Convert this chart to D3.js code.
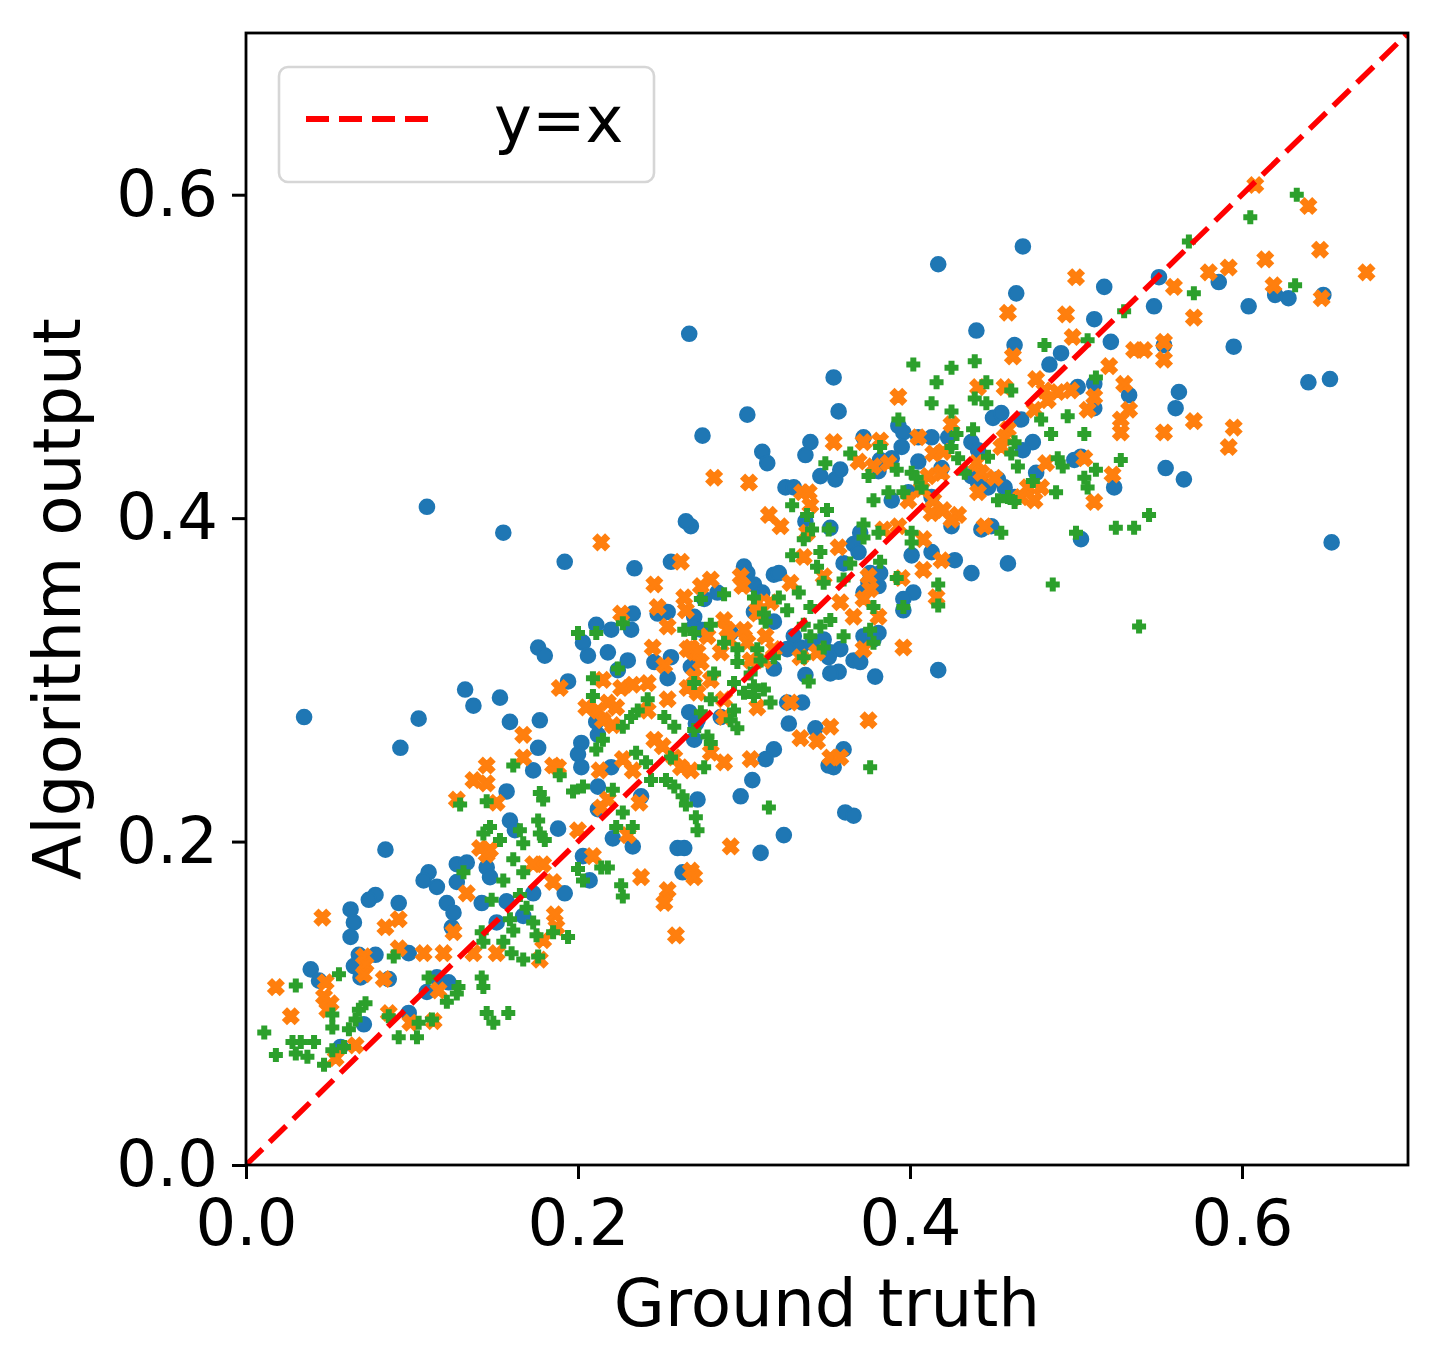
<!DOCTYPE html>
<html><head><meta charset="utf-8">
<script src="https://cdn.jsdelivr.net/npm/d3@7"></script>
<style>html,body{margin:0;padding:0;background:#fff;}svg{display:block;}</style>
</head><body>
<script>
// ---- data ----
const xTicks = [0.0, 0.2, 0.4, 0.6];
const yTicks = [0.0, 0.2, 0.4, 0.6];
const xLabel = "Ground truth";
const yLabel = "Algorithm output";
const legendLabel = "y=x";
const identityLine = [[0, 0], [0.7, 0.7]];

const seriesBlue = [
[0.084,0.195],[0.110,0.181],[0.107,0.176],[0.115,0.172],[0.127,0.186],[0.133,0.187],[0.145,0.184],[0.147,0.178],[0.127,0.175],[0.078,0.167],[0.074,0.164],[0.063,0.158],[0.065,0.150],[0.063,0.141],[0.092,0.162],[0.121,0.162],[0.125,0.156],[0.124,0.147],[0.142,0.162],[0.157,0.163],[0.173,0.168],[0.192,0.168],[0.203,0.191],[0.207,0.176],[0.039,0.121],[0.044,0.114],[0.068,0.130],[0.078,0.130],[0.065,0.123],[0.069,0.116],[0.086,0.115],[0.098,0.131],[0.115,0.116],[0.109,0.107],[0.122,0.113],[0.098,0.094],[0.071,0.087],[0.057,0.073],[0.151,0.150],[0.167,0.154],
[0.093,0.258],[0.104,0.276],[0.132,0.294],[0.137,0.284],[0.153,0.289],[0.159,0.274],[0.177,0.275],[0.176,0.258],[0.173,0.244],[0.157,0.231],[0.159,0.213],[0.162,0.207],[0.188,0.208],[0.176,0.320],[0.180,0.315],[0.194,0.299],[0.203,0.323],[0.206,0.315],[0.211,0.334],[0.220,0.331],[0.232,0.331],[0.233,0.341],[0.218,0.317],[0.230,0.312],[0.224,0.306],[0.211,0.274],[0.212,0.266],[0.202,0.261],[0.200,0.254],[0.202,0.246],[0.212,0.234],[0.220,0.246],[0.212,0.220],[0.221,0.202],[0.233,0.197],[0.238,0.228],[0.246,0.311],[0.254,0.301],[0.256,0.314],[0.248,0.341],[0.254,0.342],[0.270,0.339],[0.268,0.308],[0.267,0.280],[0.272,0.275],[0.270,0.263],[0.260,0.196],[0.264,0.196],[0.263,0.181],[0.272,0.226],
[0.354,0.246],[0.305,0.238],[0.298,0.228],[0.361,0.218],[0.366,0.216],[0.324,0.204],[0.310,0.193],
[0.268,0.395],[0.337,0.398],[0.352,0.394],[0.370,0.391],[0.366,0.384],[0.401,0.377],[0.413,0.379],[0.300,0.370],[0.302,0.366],[0.318,0.365],[0.321,0.366],[0.306,0.359],[0.311,0.354],[0.284,0.354],[0.276,0.350],[0.270,0.333],[0.274,0.331],[0.292,0.329],[0.306,0.342],[0.318,0.336],[0.330,0.327],[0.334,0.320],[0.341,0.323],[0.348,0.325],[0.352,0.317],[0.358,0.319],[0.351,0.314],[0.357,0.305],[0.352,0.304],[0.366,0.312],[0.370,0.311],[0.379,0.302],[0.337,0.303],[0.318,0.307],[0.326,0.319],[0.372,0.327],[0.381,0.329],[0.378,0.325],[0.376,0.366],[0.382,0.366],[0.375,0.360],[0.381,0.358],[0.372,0.354],[0.402,0.354],[0.396,0.350],[0.396,0.343],[0.417,0.306],[0.360,0.372],[0.369,0.379],[0.335,0.286],[0.326,0.286],[0.327,0.273],[0.343,0.270],[0.318,0.257],[0.313,0.251],[0.360,0.257],[0.351,0.247],[0.286,0.277],[0.271,0.273],
[0.267,0.514],[0.109,0.407],[0.155,0.391],[0.192,0.373],[0.234,0.369],[0.256,0.373],[0.265,0.398],[0.275,0.451],[0.302,0.464],[0.311,0.441],[0.314,0.434],[0.354,0.487],[0.357,0.466],[0.340,0.447],[0.337,0.439],[0.346,0.426],[0.355,0.424],[0.325,0.419],[0.330,0.419],
[0.035,0.277],
[0.468,0.568],[0.417,0.557],[0.464,0.539],[0.440,0.516],
[0.463,0.507],[0.491,0.502],[0.484,0.495],[0.501,0.481],[0.511,0.483],[0.511,0.468],[0.450,0.462],[0.455,0.465],[0.467,0.461],[0.393,0.457],[0.396,0.453],[0.372,0.450],[0.395,0.444],[0.405,0.450],[0.413,0.450],[0.423,0.450],[0.437,0.447],[0.441,0.442],[0.474,0.447],[0.468,0.442],[0.499,0.436],[0.503,0.438],[0.358,0.430],[0.382,0.436],[0.389,0.437],[0.405,0.435],[0.419,0.431],[0.437,0.426],[0.441,0.422],[0.447,0.419],[0.453,0.424],[0.457,0.419],[0.476,0.428],[0.381,0.429],[0.399,0.416],[0.389,0.411],[0.413,0.413],[0.463,0.413],[0.425,0.395],[0.443,0.393],[0.449,0.395],[0.503,0.387],[0.427,0.374],[0.437,0.366],[0.459,0.372],
[0.517,0.543],[0.550,0.549],[0.586,0.546],[0.547,0.531],[0.604,0.531],[0.620,0.538],[0.628,0.536],[0.649,0.538],[0.511,0.523],[0.521,0.509],[0.553,0.507],[0.595,0.506],[0.532,0.476],[0.562,0.478],[0.560,0.468],[0.640,0.484],[0.653,0.486],[0.554,0.431],
[0.565,0.424],[0.523,0.419],[0.654,0.385]
];

const seriesOrange = [
[0.018,0.110],[0.046,0.153],[0.027,0.092],[0.048,0.113],[0.047,0.104],[0.051,0.100],[0.049,0.096],[0.054,0.066],[0.066,0.074],[0.071,0.129],[0.072,0.124],[0.071,0.118],[0.084,0.147],[0.092,0.152],[0.083,0.115],[0.092,0.134],[0.107,0.131],[0.119,0.131],[0.125,0.144],[0.133,0.168],[0.116,0.108],[0.086,0.094],[0.099,0.088],[0.113,0.089],[0.145,0.192],[0.179,0.186],[0.185,0.175],[0.186,0.155],[0.187,0.147],[0.137,0.131],[0.151,0.131],[0.177,0.127],[0.179,0.139],[0.173,0.186],
[0.189,0.295],[0.167,0.266],[0.167,0.252],[0.145,0.247],[0.137,0.238],[0.145,0.236],[0.127,0.226],[0.151,0.224],[0.141,0.196],[0.147,0.195],[0.185,0.247],[0.188,0.246],[0.213,0.244],[0.214,0.221],[0.218,0.226],[0.227,0.251],[0.233,0.244],[0.237,0.224],[0.200,0.207],[0.230,0.204],[0.209,0.191],[0.238,0.178],[0.254,0.170],[0.268,0.182],[0.270,0.178],[0.205,0.283],[0.212,0.281],[0.218,0.286],[0.223,0.283],[0.215,0.275],[0.221,0.272],[0.215,0.300],[0.226,0.295],[0.233,0.297],[0.242,0.298],[0.245,0.320],[0.252,0.309],[0.248,0.345],[0.254,0.333],[0.265,0.343],[0.266,0.319],[0.270,0.317],[0.254,0.288],[0.266,0.295],[0.242,0.281],[0.246,0.263],[0.251,0.259],[0.258,0.252],[0.262,0.246],[0.268,0.244],[0.226,0.341],
[0.292,0.197],[0.252,0.162],[0.259,0.142],
[0.322,0.395],[0.280,0.362],[0.274,0.358],[0.298,0.364],[0.299,0.358],[0.288,0.337],[0.290,0.331],[0.291,0.325],[0.278,0.327],[0.268,0.320],[0.272,0.317],[0.286,0.317],[0.300,0.331],[0.302,0.323],[0.313,0.327],[0.316,0.348],[0.308,0.341],[0.328,0.360],[0.336,0.376],[0.338,0.391],[0.357,0.382],[0.348,0.364],[0.375,0.364],[0.376,0.356],[0.372,0.350],[0.366,0.339],[0.358,0.348],[0.381,0.339],[0.408,0.368],[0.408,0.387],[0.416,0.351],[0.393,0.395],[0.396,0.320],[0.372,0.319],[0.344,0.317],[0.334,0.314],[0.318,0.319],[0.312,0.312],[0.304,0.312],[0.274,0.311],[0.270,0.302],[0.280,0.300],[0.272,0.292],[0.288,0.288],[0.308,0.283],[0.328,0.286],[0.288,0.277],[0.375,0.275],[0.352,0.271],[0.334,0.264],[0.344,0.262],[0.304,0.251],[0.288,0.249],[0.352,0.252],[0.358,0.252],[0.280,0.255],[0.308,0.348],
[0.282,0.425],[0.303,0.422],[0.354,0.447],[0.335,0.416],[0.339,0.416],[0.340,0.408],[0.315,0.402],[0.214,0.385],[0.262,0.373],[0.246,0.359],[0.264,0.351],
[0.500,0.549],[0.459,0.527],[0.494,0.526],[0.498,0.512],
[0.462,0.500],[0.393,0.475],[0.476,0.486],[0.481,0.479],[0.441,0.481],[0.457,0.481],[0.511,0.475],[0.507,0.467],[0.489,0.478],[0.497,0.479],[0.475,0.467],[0.483,0.473],[0.425,0.458],[0.405,0.450],[0.372,0.447],[0.382,0.448],[0.369,0.435],[0.378,0.432],[0.387,0.434],[0.414,0.440],[0.420,0.441],[0.411,0.426],[0.419,0.428],[0.440,0.434],[0.443,0.428],[0.451,0.425],[0.457,0.450],[0.459,0.455],[0.455,0.444],[0.482,0.434],[0.505,0.437],[0.471,0.419],[0.467,0.413],[0.479,0.419],[0.475,0.411],[0.441,0.416],[0.511,0.410],[0.407,0.418],[0.399,0.411],[0.414,0.411],[0.413,0.403],[0.420,0.405],[0.429,0.402],[0.425,0.399],[0.445,0.395],[0.384,0.393],[0.419,0.374],[0.395,0.363],
[0.608,0.606],[0.640,0.593],[0.647,0.566],[0.614,0.560],[0.592,0.555],[0.580,0.552],[0.675,0.552],[0.619,0.544],[0.559,0.543],[0.648,0.536],[0.571,0.524],[0.535,0.504],[0.541,0.504],[0.553,0.509],[0.553,0.498],[0.520,0.494],[0.529,0.483],[0.532,0.467],[0.527,0.461],[0.527,0.453],[0.553,0.453],[0.571,0.460],[0.595,0.456],[0.592,0.444],
[0.522,0.427]
];

const seriesGreen = [
[0.011,0.082],[0.018,0.068],[0.030,0.111],[0.028,0.076],[0.033,0.076],[0.030,0.069],[0.037,0.067],[0.041,0.076],[0.047,0.062],[0.052,0.071],[0.059,0.073],[0.052,0.093],[0.052,0.085],[0.062,0.084],[0.066,0.090],[0.068,0.096],[0.072,0.100],[0.056,0.118],[0.089,0.129],[0.086,0.092],[0.092,0.079],[0.103,0.079],[0.104,0.088],[0.112,0.090],[0.110,0.116],[0.121,0.101],[0.127,0.106],[0.128,0.110],[0.142,0.116],[0.143,0.110],[0.145,0.094],[0.149,0.088],[0.158,0.094],[0.131,0.181],[0.148,0.164],[0.155,0.176],[0.161,0.189],[0.167,0.181],[0.169,0.159],[0.159,0.152],[0.161,0.145],[0.173,0.150],[0.175,0.142],[0.155,0.138],[0.160,0.131],[0.167,0.127],[0.176,0.129],[0.185,0.144],[0.194,0.141],[0.200,0.183],[0.203,0.176],[0.142,0.144],[0.143,0.138],[0.165,0.167],
[0.200,0.329],[0.211,0.329],[0.227,0.335],[0.224,0.307],[0.209,0.301],[0.209,0.290],[0.242,0.288],[0.236,0.281],[0.232,0.277],[0.227,0.271],[0.252,0.277],[0.258,0.271],[0.270,0.298],[0.270,0.329],[0.264,0.331],[0.215,0.263],[0.211,0.257],[0.235,0.255],[0.241,0.249],[0.244,0.238],[0.253,0.238],[0.256,0.252],[0.258,0.234],[0.263,0.228],[0.265,0.223],[0.271,0.215],[0.272,0.207],[0.221,0.232],[0.227,0.218],[0.223,0.209],[0.233,0.209],[0.161,0.247],[0.189,0.241],[0.177,0.230],[0.179,0.226],[0.197,0.231],[0.203,0.234],[0.145,0.225],[0.129,0.223],[0.176,0.213],[0.177,0.205],[0.147,0.209],[0.143,0.205],[0.153,0.201],[0.165,0.207],[0.167,0.199],[0.180,0.201],[0.214,0.184],[0.218,0.184],[0.226,0.173],[0.227,0.166],
[0.315,0.221],[0.376,0.246],
[0.329,0.377],[0.336,0.387],[0.346,0.379],[0.344,0.370],[0.348,0.360],[0.341,0.393],[0.351,0.393],[0.372,0.396],[0.372,0.388],[0.381,0.391],[0.401,0.391],[0.401,0.385],[0.364,0.372],[0.360,0.362],[0.382,0.373],[0.392,0.363],[0.417,0.359],[0.417,0.346],[0.396,0.345],[0.378,0.345],[0.274,0.350],[0.288,0.353],[0.306,0.351],[0.321,0.351],[0.333,0.354],[0.326,0.343],[0.340,0.345],[0.312,0.341],[0.313,0.336],[0.280,0.334],[0.336,0.334],[0.346,0.333],[0.340,0.327],[0.352,0.337],[0.360,0.327],[0.376,0.331],[0.378,0.323],[0.348,0.320],[0.336,0.314],[0.288,0.323],[0.296,0.319],[0.308,0.319],[0.318,0.314],[0.310,0.312],[0.296,0.311],[0.304,0.304],[0.282,0.304],[0.294,0.298],[0.306,0.296],[0.312,0.294],[0.300,0.292],[0.280,0.288],[0.294,0.281],[0.306,0.290],[0.316,0.286],[0.274,0.280],[0.292,0.275],[0.296,0.270],[0.270,0.269],[0.278,0.265],[0.280,0.261],[0.339,0.299],[0.276,0.246],
[0.349,0.434],[0.329,0.408],[0.350,0.405],[0.338,0.402],
[0.402,0.495],[0.425,0.493],[0.439,0.497],[0.481,0.507],[0.507,0.510],[0.416,0.484],[0.446,0.484],[0.461,0.479],[0.439,0.474],[0.446,0.471],[0.413,0.471],[0.425,0.466],[0.393,0.461],[0.479,0.461],[0.495,0.463],[0.512,0.487],[0.485,0.452],[0.505,0.452],[0.438,0.455],[0.428,0.452],[0.364,0.440],[0.382,0.444],[0.425,0.444],[0.463,0.447],[0.461,0.440],[0.447,0.438],[0.375,0.426],[0.392,0.430],[0.401,0.428],[0.404,0.425],[0.429,0.437],[0.433,0.428],[0.465,0.432],[0.489,0.437],[0.492,0.432],[0.474,0.423],[0.505,0.425],[0.507,0.419],[0.512,0.430],[0.488,0.416],[0.453,0.411],[0.459,0.413],[0.463,0.410],[0.378,0.411],[0.387,0.416],[0.396,0.416],[0.407,0.419],
[0.633,0.600],[0.605,0.586],[0.568,0.571],[0.571,0.539],[0.632,0.544],[0.529,0.528],[0.527,0.436],
[0.544,0.402],[0.524,0.394],[0.535,0.394],[0.500,0.391],[0.486,0.359],[0.538,0.333],[0.455,0.391]
];

// ---- layout ----
const W = 1441, H = 1369;
const plotLeft = 246, plotRight = 1408, plotTop = 33, plotBottom = 1165;
const FONT = "'DejaVu Sans', sans-serif";

const svg = d3.select("body").append("svg").attr("width", W).attr("height", H);
svg.append("rect").attr("width", W).attr("height", H).attr("fill", "#fff");

const x = d3.scaleLinear().domain([0, 0.7]).range([plotLeft, plotRight]);
const y = d3.scaleLinear().domain([0, 0.7]).range([plotBottom, plotTop]);

svg.append("clipPath").attr("id", "clip").append("rect")
  .attr("x", plotLeft).attr("y", plotTop).attr("width", plotRight - plotLeft).attr("height", plotBottom - plotTop);

const plot = svg.append("g").attr("clip-path", "url(#clip)");

// blue circles
plot.append("g").selectAll("circle").data(seriesBlue).join("circle")
  .attr("cx", d => x(d[0])).attr("cy", d => y(d[1])).attr("r", 7.3)
  .attr("fill", "#1f77b4").attr("stroke", "#1f77b4").attr("stroke-width", 2);

// orange filled X
const xSym = d3.symbol().type(d3.symbolCross).size(146)();
plot.append("g").selectAll("path").data(seriesOrange).join("path")
  .attr("d", xSym)
  .attr("transform", d => `translate(${x(d[0])},${y(d[1])}) rotate(45)`)
  .attr("fill", "#ff7f0e").attr("stroke", "#ff7f0e").attr("stroke-width", 2);

// green filled plus
const pSym = d3.symbol().type(d3.symbolCross).size(80)();
plot.append("g").selectAll("path").data(seriesGreen).join("path")
  .attr("d", pSym)
  .attr("transform", d => `translate(${x(d[0])},${y(d[1])})`)
  .attr("fill", "#2ca02c").attr("stroke", "#2ca02c").attr("stroke-width", 2);

// y = x dashed line
plot.append("path").datum(identityLine)
  .attr("d", d3.line().x(d => x(d[0])).y(d => y(d[1])))
  .attr("fill", "none").attr("stroke", "#ff0000").attr("stroke-width", 5.5)
  .attr("stroke-dasharray", "23,10");

// axes
const fmt = d3.format(".1f");
const gx = svg.append("g").attr("transform", `translate(0,${plotBottom})`)
  .call(d3.axisBottom(x).tickValues(xTicks).tickFormat(fmt).tickSize(14).tickPadding(21));
const gy = svg.append("g").attr("transform", `translate(${plotLeft},0)`)
  .call(d3.axisLeft(y).tickValues(yTicks).tickFormat(fmt).tickSize(14).tickPadding(14));
[gx, gy].forEach(g => {
  g.select(".domain").remove();
  g.selectAll(".tick line").attr("stroke", "#000").attr("stroke-width", 3);
  g.selectAll(".tick text").attr("fill", "#000").style("font-family", FONT).style("font-size", "64px");
});

// frame
svg.append("rect").attr("x", plotLeft).attr("y", plotTop).attr("width", plotRight - plotLeft).attr("height", plotBottom - plotTop)
  .attr("fill", "none").attr("stroke", "#000").attr("stroke-width", 2.8);

// axis labels
svg.append("text").attr("x", (plotLeft + plotRight) / 2).attr("y", 1326)
  .attr("text-anchor", "middle").style("font-family", FONT).style("font-size", "66px")
  .attr("fill", "#000").text(xLabel);
svg.append("text").attr("transform", `translate(80,${(plotTop + plotBottom) / 2}) rotate(-90)`)
  .attr("text-anchor", "middle").style("font-family", FONT).style("font-size", "66px")
  .attr("fill", "#000").text(yLabel);

// legend
const lg = svg.append("g");
lg.append("rect").attr("x", 279).attr("y", 67).attr("width", 375).attr("height", 115)
  .attr("rx", 9).attr("ry", 9).attr("fill", "#fff").attr("fill-opacity", 0.8)
  .attr("stroke", "#d6d6d6").attr("stroke-width", 2.6);
lg.append("line").attr("x1", 306).attr("x2", 438).attr("y1", 119).attr("y2", 119)
  .attr("stroke", "#ff0000").attr("stroke-width", 6).attr("stroke-dasharray", "23,10");
lg.append("text").attr("x", 494).attr("y", 142).style("font-family", FONT).style("font-size", "64px")
  .attr("fill", "#000").text(legendLabel);
</script>
</body></html>
